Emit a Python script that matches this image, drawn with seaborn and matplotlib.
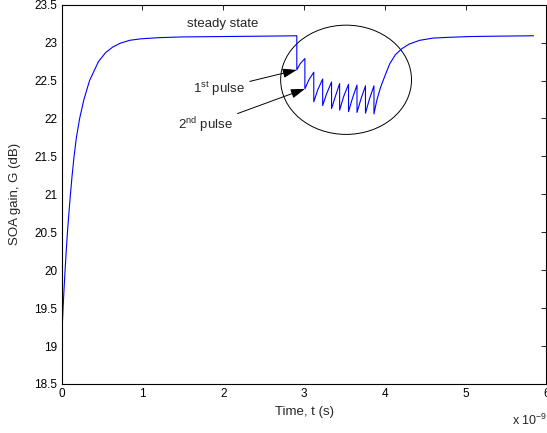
import numpy as np
import seaborn as sns
import matplotlib.pyplot as plt
from matplotlib.patches import Ellipse

# time in ns (axis carries the x 10^-9 factor), gain in dB
t_rise = [0, 0.017, 0.029, 0.042, 0.056, 0.071, 0.089, 0.108, 0.129, 0.153, 0.182,
          0.222, 0.275, 0.345, 0.455, 0.545, 0.63, 0.72, 0.84, 0.98, 1.2, 1.5, 2.0,
          2.5, 2.91]
g_rise = [19.1, 19.5, 19.75, 20.0, 20.25, 20.5, 20.75, 21.0, 21.25, 21.5, 21.75,
          22.0, 22.25, 22.5, 22.75, 22.87, 22.94, 22.99, 23.03, 23.05, 23.065, 23.075,
          23.08, 23.085, 23.09]

# pulse train: drop, recovery, peak for each of the 10 pulses
t_pulses = [2.91, 2.95, 3.01,
            3.01, 3.06, 3.12,
            3.12, 3.17, 3.23,
            3.23, 3.28, 3.34,
            3.34, 3.39, 3.44,
            3.44, 3.49, 3.55,
            3.55, 3.60, 3.655,
            3.655, 3.705, 3.76,
            3.76, 3.81, 3.865,
            3.865]
g_pulses = [22.64, 22.72, 22.79,
            22.39, 22.51, 22.61,
            22.22, 22.38, 22.52,
            22.17, 22.33, 22.48,
            22.13, 22.30, 22.46,
            22.11, 22.29, 22.45,
            22.09, 22.27, 22.44,
            22.08, 22.26, 22.43,
            22.07, 22.26, 22.43,
            22.06]

t_recover = [3.90, 3.95, 4.0, 4.06, 4.13, 4.21, 4.3, 4.43, 4.6, 4.8, 5.05, 5.4, 5.84]
g_recover = [22.24, 22.42, 22.56, 22.72, 22.84, 22.92, 22.98, 23.03, 23.06, 23.07,
             23.08, 23.085, 23.09]

t = np.array(t_rise + t_pulses + t_recover)
g = np.array(g_rise + g_pulses + g_recover)

sns.set_theme(style='white')
plt.rcParams['font.family'] = ['Liberation Sans', 'DejaVu Sans']
plt.rcParams['mathtext.fontset'] = 'custom'
plt.rcParams['mathtext.rm'] = 'Liberation Sans'
plt.rcParams['mathtext.it'] = 'Liberation Sans:italic'

fig = plt.figure(figsize=(5.47, 4.33), dpi=100)
ax = fig.add_axes([0.1128, 0.1132, 0.8862, 0.876])

sns.lineplot(x=t, y=g, sort=False, estimator=None, color='blue', lw=0.8, ax=ax)

ax.set_xlim(0, 6)
ax.set_ylim(18.5, 23.5)
ax.set_xticks(range(7))
ax.set_xticklabels([str(i) for i in range(7)])
yt = np.arange(18.5, 23.51, 0.5)
ax.set_yticks(yt)
ax.set_yticklabels(['%g' % v for v in yt])
ax.tick_params(direction='in', top=True, right=True, length=3.5, width=0.6,
               labelsize=8.5, colors='black', pad=3)
for s in ax.spines.values():
    s.set_color('black')
    s.set_linewidth(0.8)

ax.set_xlabel('Time, t (s)', fontsize=9.5)
ax.set_ylabel('SOA gain, G (dB)', fontsize=9.5)
ax.xaxis.set_label_coords(0.5, -0.058)
ax.yaxis.set_label_coords(-0.083, 0.5)
fig.text(0.936, 0.03, 'x 10$^{-9}$', fontsize=9, va='center', ha='left')

ax.text(1.99, 23.24, 'steady state', fontsize=9.5, ha='center', va='center')
ax.add_patch(Ellipse((3.52, 22.51), 1.62, 1.44, fill=False, ec='black', lw=0.7))

arrow = dict(arrowstyle='-|>,head_length=0.9,head_width=0.3', color='black',
             lw=0.7, shrinkA=1, shrinkB=0)
ax.annotate('1$^{\\rm st}$ pulse', xy=(2.91, 22.64), xytext=(2.27, 22.39),
            fontsize=9.5, ha='right', va='center', arrowprops=arrow)
ax.annotate('2$^{\\rm nd}$ pulse', xy=(3.01, 22.39), xytext=(2.12, 21.91),
            fontsize=9.5, ha='right', va='center', arrowprops=arrow)

fig.savefig('out.png', dpi=100)
